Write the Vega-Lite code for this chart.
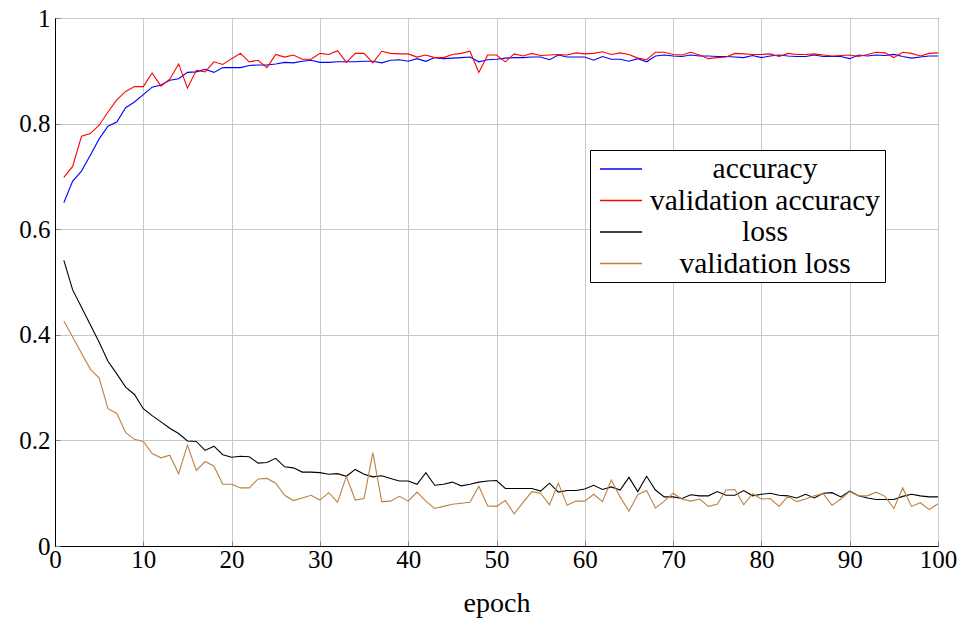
{
  "$schema": "https://vega.github.io/schema/vega-lite/v6.json",
  "width": 883,
  "height": 528,
  "autosize": {"type": "none"},
  "padding": {"left": 55, "top": 18, "right": 22, "bottom": 75},
  "background": "white",
  "config": {
    "view": {"stroke": "black", "strokeWidth": 1},
    "font": "Liberation Serif",
    "axis": {
      "labelFont": "Liberation Serif",
      "labelFontSize": 25,
      "labelColor": "black",
      "titleFont": "Liberation Serif",
      "titleFontSize": 28,
      "titleFontWeight": "normal",
      "titleColor": "black",
      "domainColor": "black",
      "domainWidth": 1,
      "gridColor": "#c8c8c8",
      "gridWidth": 1,
      "gridOpacity": 1,
      "tickColor": "#808080",
      "tickSize": -5,
      "tickWidth": 1
    },
    "legend": {
      "labelFont": "Liberation Serif",
      "labelFontSize": 29.5,
      "labelColor": "black"
    }
  },
  "data": {
    "values": [
      {"epoch":1,"acc":0.650,"val_acc":0.698,"loss":0.541,"val_loss":0.426},
      {"epoch":2,"acc":0.691,"val_acc":0.719,"loss":0.485,"val_loss":0.396},
      {"epoch":3,"acc":0.710,"val_acc":0.776,"loss":0.452,"val_loss":0.365},
      {"epoch":4,"acc":0.740,"val_acc":0.781,"loss":0.419,"val_loss":0.335},
      {"epoch":5,"acc":0.771,"val_acc":0.797,"loss":0.386,"val_loss":0.318},
      {"epoch":6,"acc":0.795,"val_acc":0.822,"loss":0.350,"val_loss":0.260},
      {"epoch":7,"acc":0.803,"val_acc":0.845,"loss":0.326,"val_loss":0.251},
      {"epoch":8,"acc":0.830,"val_acc":0.861,"loss":0.301,"val_loss":0.215},
      {"epoch":9,"acc":0.841,"val_acc":0.870,"loss":0.287,"val_loss":0.202},
      {"epoch":10,"acc":0.855,"val_acc":0.870,"loss":0.260,"val_loss":0.198},
      {"epoch":11,"acc":0.869,"val_acc":0.896,"loss":0.247,"val_loss":0.175},
      {"epoch":12,"acc":0.873,"val_acc":0.871,"loss":0.235,"val_loss":0.167},
      {"epoch":13,"acc":0.882,"val_acc":0.884,"loss":0.223,"val_loss":0.172},
      {"epoch":14,"acc":0.885,"val_acc":0.913,"loss":0.213,"val_loss":0.137},
      {"epoch":15,"acc":0.897,"val_acc":0.867,"loss":0.199,"val_loss":0.191},
      {"epoch":16,"acc":0.898,"val_acc":0.901,"loss":0.198,"val_loss":0.143},
      {"epoch":17,"acc":0.903,"val_acc":0.898,"loss":0.181,"val_loss":0.160},
      {"epoch":18,"acc":0.897,"val_acc":0.917,"loss":0.189,"val_loss":0.151},
      {"epoch":19,"acc":0.906,"val_acc":0.912,"loss":0.173,"val_loss":0.117},
      {"epoch":20,"acc":0.906,"val_acc":0.923,"loss":0.168,"val_loss":0.117},
      {"epoch":21,"acc":0.906,"val_acc":0.933,"loss":0.170,"val_loss":0.110},
      {"epoch":22,"acc":0.910,"val_acc":0.917,"loss":0.169,"val_loss":0.110},
      {"epoch":23,"acc":0.911,"val_acc":0.920,"loss":0.157,"val_loss":0.127},
      {"epoch":24,"acc":0.911,"val_acc":0.906,"loss":0.158,"val_loss":0.128},
      {"epoch":25,"acc":0.913,"val_acc":0.931,"loss":0.166,"val_loss":0.119},
      {"epoch":26,"acc":0.916,"val_acc":0.926,"loss":0.150,"val_loss":0.096},
      {"epoch":27,"acc":0.915,"val_acc":0.930,"loss":0.148,"val_loss":0.086},
      {"epoch":28,"acc":0.918,"val_acc":0.922,"loss":0.140,"val_loss":0.091},
      {"epoch":29,"acc":0.920,"val_acc":0.922,"loss":0.140,"val_loss":0.096},
      {"epoch":30,"acc":0.916,"val_acc":0.933,"loss":0.139,"val_loss":0.087},
      {"epoch":31,"acc":0.916,"val_acc":0.931,"loss":0.136,"val_loss":0.101},
      {"epoch":32,"acc":0.917,"val_acc":0.938,"loss":0.137,"val_loss":0.083},
      {"epoch":33,"acc":0.917,"val_acc":0.916,"loss":0.132,"val_loss":0.132},
      {"epoch":34,"acc":0.917,"val_acc":0.933,"loss":0.145,"val_loss":0.087},
      {"epoch":35,"acc":0.918,"val_acc":0.933,"loss":0.136,"val_loss":0.090},
      {"epoch":36,"acc":0.918,"val_acc":0.915,"loss":0.131,"val_loss":0.177},
      {"epoch":37,"acc":0.915,"val_acc":0.937,"loss":0.133,"val_loss":0.084},
      {"epoch":38,"acc":0.920,"val_acc":0.933,"loss":0.128,"val_loss":0.085},
      {"epoch":39,"acc":0.921,"val_acc":0.932,"loss":0.123,"val_loss":0.094},
      {"epoch":40,"acc":0.918,"val_acc":0.932,"loss":0.123,"val_loss":0.085},
      {"epoch":41,"acc":0.923,"val_acc":0.926,"loss":0.117,"val_loss":0.102},
      {"epoch":42,"acc":0.918,"val_acc":0.930,"loss":0.139,"val_loss":0.085},
      {"epoch":43,"acc":0.925,"val_acc":0.925,"loss":0.115,"val_loss":0.071},
      {"epoch":44,"acc":0.923,"val_acc":0.925,"loss":0.117,"val_loss":0.075},
      {"epoch":45,"acc":0.924,"val_acc":0.931,"loss":0.121,"val_loss":0.079},
      {"epoch":46,"acc":0.925,"val_acc":0.933,"loss":0.114,"val_loss":0.081},
      {"epoch":47,"acc":0.926,"val_acc":0.937,"loss":0.117,"val_loss":0.083},
      {"epoch":48,"acc":0.917,"val_acc":0.897,"loss":0.121,"val_loss":0.113},
      {"epoch":49,"acc":0.921,"val_acc":0.930,"loss":0.123,"val_loss":0.076},
      {"epoch":50,"acc":0.922,"val_acc":0.930,"loss":0.124,"val_loss":0.075},
      {"epoch":51,"acc":0.924,"val_acc":0.917,"loss":0.109,"val_loss":0.086},
      {"epoch":52,"acc":0.925,"val_acc":0.932,"loss":0.109,"val_loss":0.061},
      {"epoch":53,"acc":0.925,"val_acc":0.928,"loss":0.109,"val_loss":0.082},
      {"epoch":54,"acc":0.926,"val_acc":0.933,"loss":0.109,"val_loss":0.103},
      {"epoch":55,"acc":0.926,"val_acc":0.929,"loss":0.104,"val_loss":0.100},
      {"epoch":56,"acc":0.921,"val_acc":0.930,"loss":0.119,"val_loss":0.078},
      {"epoch":57,"acc":0.930,"val_acc":0.931,"loss":0.102,"val_loss":0.119},
      {"epoch":58,"acc":0.926,"val_acc":0.930,"loss":0.105,"val_loss":0.077},
      {"epoch":59,"acc":0.926,"val_acc":0.934,"loss":0.105,"val_loss":0.085},
      {"epoch":60,"acc":0.926,"val_acc":0.932,"loss":0.108,"val_loss":0.085},
      {"epoch":61,"acc":0.920,"val_acc":0.933,"loss":0.115,"val_loss":0.098},
      {"epoch":62,"acc":0.927,"val_acc":0.936,"loss":0.107,"val_loss":0.084},
      {"epoch":63,"acc":0.922,"val_acc":0.931,"loss":0.112,"val_loss":0.125},
      {"epoch":64,"acc":0.922,"val_acc":0.934,"loss":0.106,"val_loss":0.093},
      {"epoch":65,"acc":0.918,"val_acc":0.931,"loss":0.130,"val_loss":0.066},
      {"epoch":66,"acc":0.923,"val_acc":0.924,"loss":0.103,"val_loss":0.097},
      {"epoch":67,"acc":0.917,"val_acc":0.921,"loss":0.132,"val_loss":0.105},
      {"epoch":68,"acc":0.928,"val_acc":0.935,"loss":0.106,"val_loss":0.072},
      {"epoch":69,"acc":0.930,"val_acc":0.935,"loss":0.093,"val_loss":0.085},
      {"epoch":70,"acc":0.928,"val_acc":0.931,"loss":0.093,"val_loss":0.100},
      {"epoch":71,"acc":0.927,"val_acc":0.930,"loss":0.090,"val_loss":0.089},
      {"epoch":72,"acc":0.930,"val_acc":0.935,"loss":0.097,"val_loss":0.085},
      {"epoch":73,"acc":0.928,"val_acc":0.930,"loss":0.095,"val_loss":0.089},
      {"epoch":74,"acc":0.928,"val_acc":0.923,"loss":0.095,"val_loss":0.075},
      {"epoch":75,"acc":0.927,"val_acc":0.925,"loss":0.103,"val_loss":0.079},
      {"epoch":76,"acc":0.927,"val_acc":0.926,"loss":0.096,"val_loss":0.106},
      {"epoch":77,"acc":0.926,"val_acc":0.933,"loss":0.096,"val_loss":0.107},
      {"epoch":78,"acc":0.925,"val_acc":0.932,"loss":0.105,"val_loss":0.078},
      {"epoch":79,"acc":0.929,"val_acc":0.931,"loss":0.095,"val_loss":0.099},
      {"epoch":80,"acc":0.925,"val_acc":0.931,"loss":0.098,"val_loss":0.089},
      {"epoch":81,"acc":0.928,"val_acc":0.932,"loss":0.100,"val_loss":0.090},
      {"epoch":82,"acc":0.930,"val_acc":0.927,"loss":0.096,"val_loss":0.075},
      {"epoch":83,"acc":0.928,"val_acc":0.933,"loss":0.095,"val_loss":0.094},
      {"epoch":84,"acc":0.927,"val_acc":0.931,"loss":0.091,"val_loss":0.084},
      {"epoch":85,"acc":0.927,"val_acc":0.931,"loss":0.098,"val_loss":0.089},
      {"epoch":86,"acc":0.930,"val_acc":0.932,"loss":0.091,"val_loss":0.095},
      {"epoch":87,"acc":0.927,"val_acc":0.930,"loss":0.100,"val_loss":0.099},
      {"epoch":88,"acc":0.927,"val_acc":0.928,"loss":0.101,"val_loss":0.077},
      {"epoch":89,"acc":0.927,"val_acc":0.929,"loss":0.093,"val_loss":0.089},
      {"epoch":90,"acc":0.923,"val_acc":0.930,"loss":0.104,"val_loss":0.103},
      {"epoch":91,"acc":0.930,"val_acc":0.927,"loss":0.095,"val_loss":0.095},
      {"epoch":92,"acc":0.928,"val_acc":0.931,"loss":0.091,"val_loss":0.095},
      {"epoch":93,"acc":0.930,"val_acc":0.935,"loss":0.088,"val_loss":0.102},
      {"epoch":94,"acc":0.929,"val_acc":0.934,"loss":0.088,"val_loss":0.094},
      {"epoch":95,"acc":0.931,"val_acc":0.925,"loss":0.088,"val_loss":0.071},
      {"epoch":96,"acc":0.927,"val_acc":0.935,"loss":0.094,"val_loss":0.110},
      {"epoch":97,"acc":0.924,"val_acc":0.933,"loss":0.098,"val_loss":0.075},
      {"epoch":98,"acc":0.926,"val_acc":0.928,"loss":0.095,"val_loss":0.082},
      {"epoch":99,"acc":0.928,"val_acc":0.933,"loss":0.093,"val_loss":0.069},
      {"epoch":100,"acc":0.928,"val_acc":0.934,"loss":0.093,"val_loss":0.080}
    ]
  },
  "transform": [
    {"fold": ["acc", "val_acc", "loss", "val_loss"], "as": ["series", "value"]}
  ],
  "mark": {"type": "line", "strokeWidth": 1.1, "clip": true},
  "encoding": {
    "x": {
      "field": "epoch",
      "type": "quantitative",
      "scale": {"domain": [0, 100], "nice": false, "zero": false},
      "axis": {"values": [0,10,20,30,40,50,60,70,80,90,100], "title": "epoch", "labelPadding": 6, "titlePadding": 17, "labelFlush": false}
    },
    "y": {
      "field": "value",
      "type": "quantitative",
      "scale": {"domain": [0, 1], "nice": false},
      "axis": {"values": [0,0.2,0.4,0.6,0.8,1], "format": "~g", "title": null, "labelPadding": 10, "labelFlush": false}
    },
    "color": {
      "field": "series",
      "type": "nominal",
      "scale": {
        "domain": ["acc", "val_acc", "loss", "val_loss"],
        "range": ["#0000ff", "#ff0000", "#000000", "#bf8040"]
      },
      "legend": {
        "title": null,
        "orient": "none",
        "legendX": 535,
        "legendY": 132,
        "fillColor": "white",
        "strokeColor": "black",
        "padding": 4,
        "symbolType": "M-1.5,0H1.5",
        "symbolSize": 784,
        "symbolStrokeWidth": 1.3,
        "symbolOffset": 12,
        "rowPadding": 1.5,
        "labelAlign": "center",
        "labelOffset": 129,
        "labelLimit": 400,
        "labelExpr": "datum.value == 'acc' ? 'accuracy' : datum.value == 'val_acc' ? 'validation accuracy' : datum.value == 'loss' ? 'loss' : 'validation loss'"
      }
    },
    "order": {"field": "epoch", "type": "quantitative"}
  }
}
